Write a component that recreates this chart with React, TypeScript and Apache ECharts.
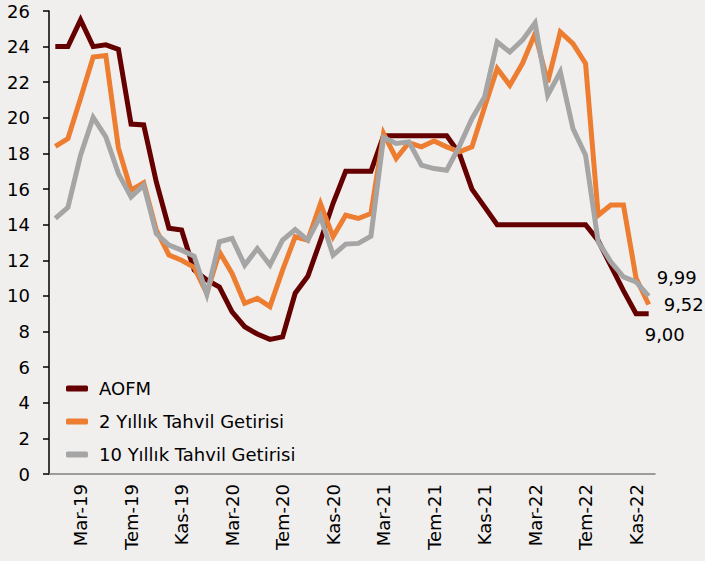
import React, { useEffect, useRef } from "react";
import * as echarts from "echarts";

const monthNames = ["Oca", "Şub", "Mar", "Nis", "May", "Haz", "Tem", "Ağu", "Eyl", "Eki", "Kas", "Ara"];
const years = ["19", "20", "21", "22"];
const categories: string[] = years.flatMap((y) => monthNames.map((m) => `${m}-${y}`));

const aofm = [
  24.0, 24.0, 25.5, 24.0, 24.1, 23.85, 19.65, 19.6, 16.4, 13.8, 13.7, 11.45,
  10.9, 10.5, 9.1, 8.27, 7.86, 7.56, 7.7, 10.15, 11.1, 13.1, 15.2, 17.0,
  17.0, 17.0, 19.0, 19.0, 19.0, 19.0, 19.0, 19.0, 18.0, 16.0, 15.0, 14.0,
  14.0, 14.0, 14.0, 14.0, 14.0, 14.0, 14.0, 13.1, 11.7, 10.3, 9.0, 9.0,
];
const y2 = [
  18.4, 18.84, 21.1, 23.42, 23.5, 18.3, 15.94, 16.35, 13.7, 12.3, 12.0, 11.6,
  10.14, 12.47, 11.26, 9.58, 9.86, 9.4, 11.45, 13.32, 13.13, 15.19, 13.32, 14.53,
  14.35, 14.63, 19.12, 17.72, 18.6, 18.37, 18.7, 18.37, 18.09, 18.37, 20.6, 22.77,
  21.83, 23.05, 24.73, 22.0, 24.82, 24.17, 23.05, 14.53, 15.1, 15.1, 11.0, 9.52,
];
const y10 = [
  14.35, 14.97, 17.9, 20.02, 18.93, 16.87, 15.56, 16.22, 13.5, 12.85, 12.57, 12.23,
  10.1, 13.04, 13.23, 11.73, 12.66, 11.73, 13.13, 13.73, 13.13, 14.48, 12.29, 12.91,
  12.95, 13.36, 18.9, 18.56, 18.65, 17.34, 17.15, 17.06, 18.4, 19.95, 21.17, 24.26,
  23.7, 24.36, 25.33, 21.27, 22.58, 19.4, 17.9, 13.04, 11.92, 11.07, 10.79, 9.99,
];

const seriesNames = ["AOFM", "2 Yıllık Tahvil Getirisi", "10 Yıllık Tahvil Getirisi"];
const seriesColors = ["#650000", "#ED7D31", "#A5A5A5"];

const FONT = "DejaVu Sans";

export default function App() {
  const ref = useRef<HTMLDivElement>(null);
  useEffect(() => {
    if (!ref.current) return;
    const chart = echarts.init(ref.current, null, { renderer: "svg" });
    const fmt = (p: any) => {
      const v = Array.isArray(p.value) ? p.value[p.value.length - 1] : p.value;
      return Number(v).toFixed(2).replace(".", ",");
    };
    const endLabel = (offset: number[]) => ({
      show: true,
      formatter: fmt,
      offset,
      distance: 8,
      fontSize: 18,
      fontFamily: FONT,
      color: "#000",
    });
    const mk = (i: number, data: number[], offset: number[]) => ({
      name: seriesNames[i],
      type: "line",
      data,
      symbol: "none",
      lineStyle: { width: 5, color: seriesColors[i], cap: "butt", join: "miter" },
      itemStyle: { color: seriesColors[i] },
      endLabel: endLabel(offset),
    });
    chart.setOption({
      animation: false,
      backgroundColor: "#F1EFEE",
      grid: { left: 49, right: 50, top: 11, bottom: 87, containLabel: false },
      legend: {
        data: seriesNames,
        orient: "vertical",
        left: 61,
        top: 373,
        itemGap: 12,
        itemWidth: 22,
        itemHeight: 6,
        icon: "roundRect",
        textStyle: { fontSize: 18, fontFamily: FONT, color: "#000", padding: [0, 0, 0, 6], lineHeight: 21 },
      },
      xAxis: {
        type: "category",
        data: categories,
        boundaryGap: true,
        axisLine: { show: true, lineStyle: { color: "#808080", width: 1.5 } },
        axisTick: { show: false },
        axisLabel: {
          rotate: 90,
          interval: (index: number) => index % 4 === 2,
          margin: 10,
          fontSize: 18,
          fontFamily: FONT,
          color: "#000",
        },
        splitLine: { show: false },
      },
      yAxis: {
        type: "value",
        min: 0,
        max: 26,
        interval: 2,
        axisLine: { show: true, lineStyle: { color: "#000", width: 1.5 } },
        axisTick: { show: true, length: 6, lineStyle: { color: "#000", width: 1.5 } },
        axisLabel: { margin: 19, fontSize: 18, fontFamily: FONT, color: "#000" },
        splitLine: { show: false },
      },
      series: [
        mk(0, aofm, [-12, 21]),
        mk(1, y2, [7, 0]),
        mk(2, y10, [0, -19]),
      ],
    });
    return () => chart.dispose();
  }, []);
  return (
    <div
      ref={ref}
      style={{ position: "fixed", left: 0, top: 0, width: 705, height: 561 }}
    />
  );
}
